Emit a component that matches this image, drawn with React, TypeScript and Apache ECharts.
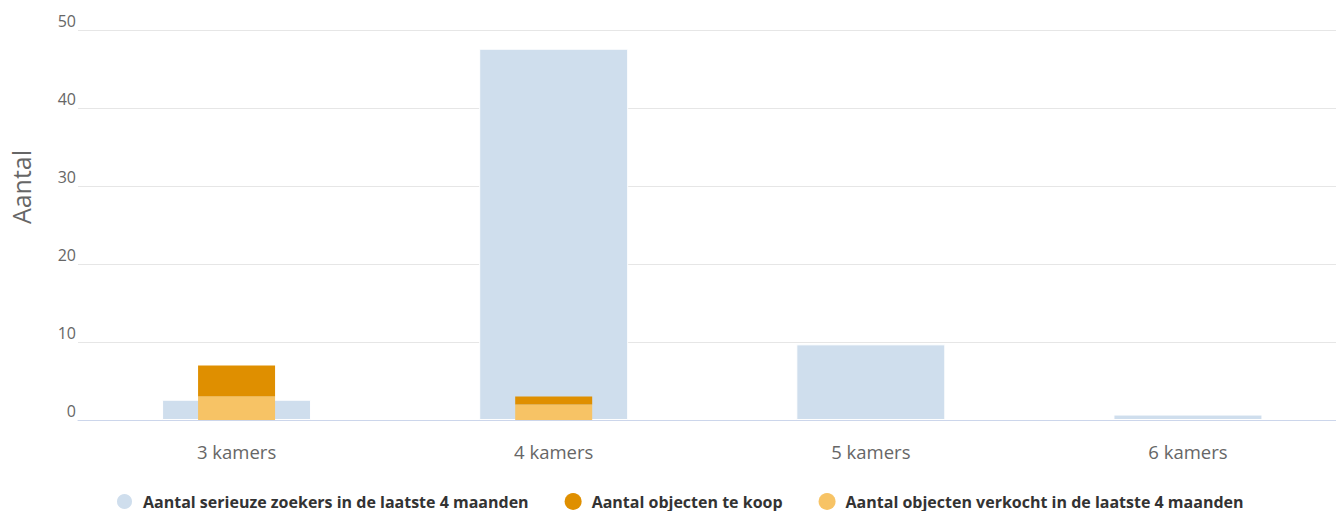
import React, { useEffect, useRef } from "react";
import * as echarts from "echarts";

const categories = ["3 kamers", "4 kamers", "5 kamers", "6 kamers"];
const zoekers = [2.6, 47.6, 9.7, 0.7];
const teKoop = [4, 1, 0, 0];
const verkocht = [3, 2, 0, 0];
const yTicks = { min: 0, max: 50, interval: 10 };

const NAME_ZOEKERS = "Aantal serieuze zoekers in de laatste 4 maanden";
const NAME_TEKOOP = "Aantal objecten te koop";
const NAME_VERKOCHT = "Aantal objecten verkocht in de laatste 4 maanden";
const Y_TITLE = "Aantal";

const FONT = "'Open Sans', sans-serif";

export default function App() {
  const ref = useRef<HTMLDivElement>(null);
  useEffect(() => {
    if (!ref.current) return;
    const chart = echarts.init(ref.current, undefined, { renderer: "svg" });
    chart.setOption({
      animation: false,
      textStyle: { fontFamily: FONT },
      legend: {
        left: 115,
        top: 492,
        padding: 0,
        icon: "circle",
        itemWidth: 17,
        itemHeight: 17,
        itemGap: 36,
        data: [NAME_ZOEKERS, NAME_TEKOOP, NAME_VERKOCHT],
        textStyle: {
          fontFamily: FONT,
          fontSize: 16,
          fontWeight: "bold",
          color: "#333333",
          padding: [0, 0, 0, 5],
        },
      },
      graphic: [
        {
          type: "text",
          x: 21,
          y: 187,
          rotation: Math.PI / 2,
          style: {
            text: Y_TITLE,
            fill: "#666666",
            fontSize: 25,
            fontFamily: FONT,
            align: "center",
            verticalAlign: "middle",
          },
        },
      ],
      grid: { left: 78, top: 30, width: 1268.5, bottom: 91, containLabel: false },
      xAxis: [
        {
          type: "category",
          data: categories,
          axisLine: { lineStyle: { color: "#ccd6eb", width: 1 } },
          axisTick: { alignWithLabel: true, length: 14, lineStyle: { color: "#ccd6eb" } },
          axisLabel: { color: "#666666", fontSize: 18.5, fontFamily: FONT, margin: 22 },
        },
        { type: "category", data: categories, show: false },
      ],
      yAxis: {
        type: "value",
        min: yTicks.min,
        max: yTicks.max,
        interval: yTicks.interval,
        axisLine: { show: false },
        axisTick: { show: false },
        splitLine: { lineStyle: { color: "#e6e6e6", width: 1 } },
        axisLabel: {
          color: "#666666",
          fontSize: 16,
          fontFamily: FONT,
          margin: 2,
          verticalAlign: "bottom",
          padding: [0, 0, 1, 0],
        },
      },
      series: [
        {
          name: NAME_ZOEKERS,
          type: "bar",
          xAxisIndex: 0,
          barWidth: 149,
          data: zoekers,
          itemStyle: { color: "#cfdeed", borderColor: "#ffffff", borderWidth: 1 },
        },
        {
          name: NAME_VERKOCHT,
          type: "bar",
          xAxisIndex: 1,
          stack: "objecten",
          barWidth: 77,
          data: verkocht,
          itemStyle: { color: "#f7c365" },
        },
        {
          name: NAME_TEKOOP,
          type: "bar",
          xAxisIndex: 1,
          stack: "objecten",
          barWidth: 77,
          data: teKoop,
          itemStyle: { color: "#df8f00" },
        },
      ],
    });
    return () => chart.dispose();
  }, []);
  return (
    <div
      style={{
        position: "absolute",
        left: 0,
        top: 0,
        width: 1336,
        height: 511,
        overflow: "hidden",
      }}
    >
      <div ref={ref} style={{ width: 1347, height: 511 }} />
    </div>
  );
}
